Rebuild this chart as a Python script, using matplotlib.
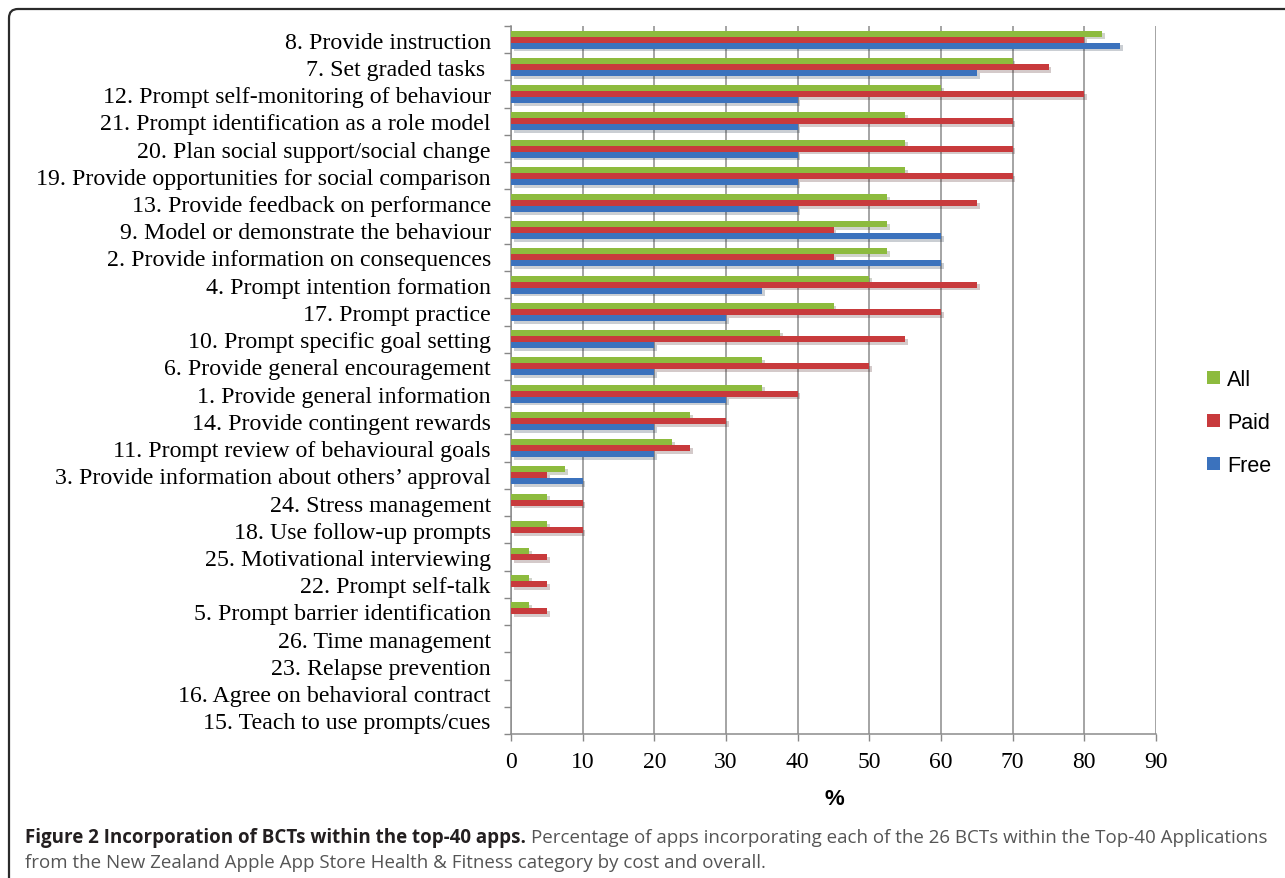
import numpy as np
import matplotlib
matplotlib.use("Agg")
import matplotlib.pyplot as plt
import matplotlib.patheffects as pe
from matplotlib.patches import FancyBboxPatch, Rectangle
from matplotlib.transforms import IdentityTransform

# Data (percent of apps)
categories = [
    "8. Provide instruction",
    "7. Set graded tasks ",
    "12. Prompt self-monitoring of behaviour",
    "21. Prompt identification as a role model",
    "20. Plan social support/social change",
    "19. Provide opportunities for social comparison",
    "13. Provide feedback on performance",
    "9. Model or demonstrate the behaviour",
    "2. Provide information on consequences",
    "4. Prompt intention formation",
    "17. Prompt practice",
    "10. Prompt specific goal setting",
    "6. Provide general encouragement",
    "1. Provide general information",
    "14. Provide contingent rewards",
    "11. Prompt review of behavioural goals",
    "3. Provide information about others\u2019 approval",
    "24. Stress management",
    "18. Use follow-up prompts",
    "25. Motivational interviewing",
    "22. Prompt self-talk",
    "5. Prompt barrier identification",
    "26. Time management",
    "23. Relapse prevention",
    "16. Agree on behavioral contract",
    "15. Teach to use prompts/cues",
]
all_vals = [82.5, 70, 60, 55, 55, 55, 52.5, 52.5, 52.5, 50, 45, 37.5, 35, 35,
            25, 22.5, 7.5, 5, 5, 2.5, 2.5, 2.5, 0, 0, 0, 0]
paid_vals = [80, 75, 80, 70, 70, 70, 65, 45, 45, 65, 60, 55, 50, 40,
             30, 25, 5, 10, 10, 5, 5, 5, 0, 0, 0, 0]
free_vals = [85, 65, 40, 40, 40, 40, 40, 60, 60, 35, 30, 20, 20, 30,
             20, 20, 10, 0, 0, 0, 0, 0, 0, 0, 0, 0]
series_names = ["All", "Paid", "Free"]
xticks = list(range(0, 100, 10))

colors = {"All": "#8dbb3e", "Paid": "#c83a3c", "Free": "#3b72bd"}

W, H = 1285, 879
fig = plt.figure(figsize=(W / 100, H / 100), dpi=100)
fig.patch.set_facecolor("white")

# rounded frame around the figure (open to the right/bottom edge)
frame = FancyBboxPatch((9, -40), W + 40, H - 10 + 40,
                       boxstyle="round,pad=0,rounding_size=9",
                       transform=IdentityTransform(), fill=False,
                       edgecolor="#2b2b2b", linewidth=1.6)
fig.patches.append(frame)

ax = fig.add_axes([511 / W, 1 - 735 / H, (1156 - 511) / W, (735 - 27) / H])

y = np.arange(len(categories))
h = 0.22
shadow = [pe.SimplePatchShadow(offset=(2, -2), alpha=0.22), pe.Normal()]
for vals, name, off in zip([all_vals, paid_vals, free_vals], series_names, [-h, 0, h]):
    bars = ax.barh(y + off, vals, height=h, color=colors[name], label=name, zorder=3)
    for b in bars:
        if b.get_width() > 0:
            b.set_path_effects(shadow)

ax.set_ylim(len(categories) - 0.5, -0.5)
ax.set_xlim(0, 90)
ax.set_xticks(xticks)
ax.set_xticklabels([str(t) for t in xticks], fontfamily="Liberation Serif", fontsize=17)
ax.set_yticks(y)
ax.set_yticklabels(categories, fontfamily="Liberation Serif", fontsize=17.2)
ax.set_yticks(np.arange(len(categories) + 1) - 0.5, minor=True)
ax.tick_params(axis="y", which="major", length=0, pad=14.5)
ax.tick_params(axis="y", which="minor", length=5, color="#888888", width=1)
ax.tick_params(axis="x", length=5, color="#888888", width=1, pad=7)

ax.grid(axis="x", color="#8c8c8c", linewidth=1.1, zorder=0)
for s in ["top", "right"]:
    ax.spines[s].set_visible(False)
for s in ["left", "bottom"]:
    ax.spines[s].set_color("#8c8c8c")
    ax.spines[s].set_linewidth(1.1)

fig.text(834 / W, 1 - 800 / H, "%", fontfamily="Liberation Sans", fontweight="bold",
         fontsize=16, ha="center", va="center")

# legend, drawn by hand to sit where the reference has it
for name, ly in zip(series_names, [378, 421, 464]):
    fig.patches.append(Rectangle((1207 / W, 1 - (ly + 6.5) / H), 13 / W, 13 / H,
                                 transform=fig.transFigure, facecolor=colors[name],
                                 edgecolor="none"))
    fig.text(1227 / W, 1 - ly / H, name, fontfamily="Liberation Sans", fontsize=15.5,
             ha="left", va="center_baseline")

# caption
fig.canvas.draw()
r = fig.canvas.get_renderer()
t1 = fig.text(25 / W, 1 - 838 / H, "Figure 2 Incorporation of BCTs within the top-40 apps.",
              fontfamily="Open Sans", fontweight="bold", fontsize=13.5,
              color="#231f20", va="center", ha="left")
bb = t1.get_window_extent(renderer=r)
fig.text((bb.x1 + 5) / W, 1 - 838 / H,
         "Percentage of apps incorporating each of the 26 BCTs within the Top-40 Applications",
         fontfamily="Open Sans", fontsize=13.5, color="#555555", va="center", ha="left")
fig.text(25 / W, 1 - 863 / H,
         "from the New Zealand Apple App Store Health & Fitness category by cost and overall.",
         fontfamily="Open Sans", fontsize=13.5, color="#555555", va="center", ha="left")

fig.savefig("out.png", dpi=100)
